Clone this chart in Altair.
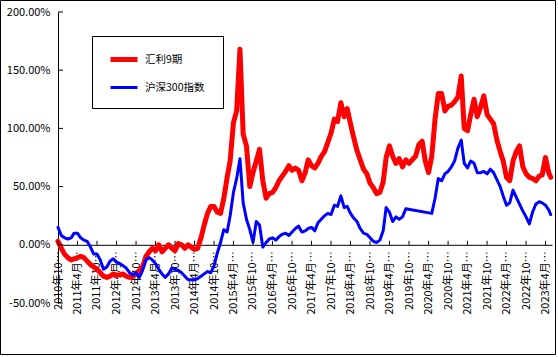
import altair as alt
import pandas as pd

# ---------------- data ----------------
series_names = ["汇利9期", "沪深300指数"]
series_colors = ["#FF0000", "#0000FF"]
series_widths = [5, 3]

month_starts = pd.date_range("2010-10-01", "2023-05-01", freq="MS")
last_date = "2023-05-20"

huili = [3, -3, -8, -11, -13, -12, -11, -10, -11, -14,
         -17, -19, -21, -24, -27, -28, -27, -25, -26, -26,
         -25, -27, -28, -27, -25, -22, -19, -10, -6, -3,
         -5, 0, -6, -3, 0, -3, -5, 1, 0, -3,
         0, -2, -4, -3, 6, 17, 27, 33, 33, 28,
         27, 40, 58, 72, 105, 115, 168, 95, 85, 50,
         62, 72, 82, 55, 40, 44, 45, 49, 55, 59,
         63, 68, 64, 66, 64, 55, 62, 73, 68, 66,
         70, 76, 80, 88, 96, 108, 106, 122, 110, 117,
         104, 92, 81, 73, 65, 61, 53, 49, 44, 45,
         54, 75, 85, 76, 70, 74, 67, 73, 70, 73,
         76, 86, 89, 72, 62, 76, 108, 130, 130, 115,
         119, 120, 123, 127, 145, 100, 98, 112, 125, 110,
         118, 128, 112, 108, 104, 90, 80, 72, 58, 55,
         72, 80, 85, 67, 61, 58, 57, 55, 59, 60,
         75, 62]
huili_last = 58

hs300 = [15, 8, 6, 5, 6, 10, 10, 6, 4, 3,
         -2, -8, -8, -13, -21, -19, -14, -12, -15, -16,
         -18, -20, -24, -26, -24, -28, -22, -13, -11, -13,
         -16, -21, -25, -28, -25, -20, -21, -22, -24, -27,
         -30, -30, -30, -29, -27, -25, -23, -24, -18, -7,
         2, 13, 11, 25, 45, 57, 74, 36, 22, 13,
         2, 20, 17, -2, 2, 5, 6, 4, 7, 9,
         10, 8, 11, 14, 16, 11, 12, 14, 15, 12,
         19, 22, 25, 27, 26, 34, 33, 42, 32, 33,
         27, 23, 20, 14, 10, 9, 6, 3, 2, 4,
         12, 32, 28, 20, 24, 22, 24, 31, None, None,
         None, None, None, None, None, 27, 40, 57, 55, 61,
         63, 67, 72, 83, 90, 70, 66, 72, 70, 62,
         62, 63, 61, 65, 62, 56, 50, 42, 34, 36,
         47, 41, 35, 29, 24, 18, 28, 35, 37, 36,
         34, 30]
hs300_last = 26

tick_months = ["2010-10", "2011-04", "2011-10", "2012-04", "2012-10", "2013-04",
               "2013-10", "2014-04", "2014-10", "2015-04", "2015-10", "2016-04",
               "2016-10", "2017-04", "2017-10", "2018-04", "2018-10", "2019-04",
               "2019-10", "2020-04", "2020-10", "2021-04", "2021-10", "2022-04",
               "2022-10", "2023-04"]
y_ticks = [-50, 0, 50, 100, 150, 200]

# ---------------- frames ----------------
dates = list(month_starts) + [pd.Timestamp(last_date)]
red_df = pd.DataFrame({"date": dates, "value": huili + [huili_last], "series": series_names[0]})
blue_df = pd.DataFrame({"date": dates, "value": hs300 + [hs300_last], "series": series_names[1]}).dropna()
tick_df = pd.DataFrame({"date": pd.to_datetime([m + "-01" for m in tick_months])})
ytick_df = pd.DataFrame({"value": y_ticks})
one_row = pd.DataFrame({"a": [0]})

FONT = "Noto Sans CJK SC"

tick_values = [alt.DateTime(year=int(m[:4]), month=int(m[5:]), date=1) for m in tick_months]
x_scale = alt.Scale(domain=[alt.DateTime(year=2010, month=10, date=1),
                            alt.DateTime(year=2023, month=6, date=1)])
y_scale = alt.Scale(domain=[-50, 200], nice=False, zero=False)

x_axis = alt.Axis(values=tick_values,
                  labelExpr="timeFormat(datum.value, '%Y年%-m月%-d日')",
                  labelAngle=270, labelLimit=66, labelPadding=6, tickSize=0,
                  offset=-58.2, domainColor="black", labelFlush=False,
                  labelOverlap=False, grid=False, title=None,
                  labelFont=FONT, labelFontSize=11, labelColor="black")
y_axis = alt.Axis(values=y_ticks,
                  labelExpr="(datum.value < 0 ? '-' : '') + format(abs(datum.value), '.2f') + '%'",
                  tickSize=0, labelPadding=8, domainColor="black", grid=False,
                  title=None, labelFont=FONT, labelFontSize=11, labelColor="black")

legend = alt.Legend(orient="none", legendX=50, legendY=31.5, title=None,
                    symbolType="stroke", symbolSize=729, padding=0, rowPadding=3,
                    labelOffset=5, labelFont=FONT, labelFontSize=10.5,
                    labelColor="black")

color_enc = alt.Color("series:N", scale=alt.Scale(domain=series_names, range=series_colors),
                      legend=legend)
width_enc = alt.StrokeWidth("series:N", scale=alt.Scale(domain=series_names, range=series_widths),
                            legend=legend)


def line_layer(df):
    return alt.Chart(df).mark_line(strokeJoin="round", strokeCap="round").encode(
        x=alt.X("date:T", scale=x_scale, axis=x_axis),
        y=alt.Y("value:Q", scale=y_scale, axis=y_axis),
        color=color_enc,
        strokeWidth=width_enc,
    )


red = line_layer(red_df)
blue = line_layer(blue_df)

xticks = alt.Chart(tick_df).mark_rule(color="black", strokeWidth=1).encode(
    x=alt.X("date:T", scale=x_scale, axis=x_axis),
    y=alt.datum(0),
    y2=alt.datum(3.4),
)
yticks = alt.Chart(ytick_df).mark_rule(color="black", strokeWidth=1).encode(
    y=alt.Y("value:Q", scale=y_scale, axis=y_axis),
    x=alt.value(0),
    x2=alt.value(5),
)

frame = alt.Chart(one_row).mark_rect(fillOpacity=0, stroke="black", strokeWidth=1).encode(
    x=alt.value(-57.5), x2=alt.value(497.5), y=alt.value(-11.5), y2=alt.value(342.5)
)
legend_box = alt.Chart(one_row).mark_rect(fill="white", stroke="black", strokeWidth=1).encode(
    x=alt.value(34.5), x2=alt.value(165.5), y=alt.value(24.5), y2=alt.value(96.5)
)

chart = alt.layer(frame, legend_box, red, blue, xticks, yticks).properties(
    width=494, height=291,
    padding={"left": 58, "top": 12, "right": 6, "bottom": 54},
    autosize=alt.AutoSizeParams(type="none"),
    background="white",
).configure_view(stroke=None)

chart.save("out.html", embed_options={"renderer": "svg", "actions": False})
